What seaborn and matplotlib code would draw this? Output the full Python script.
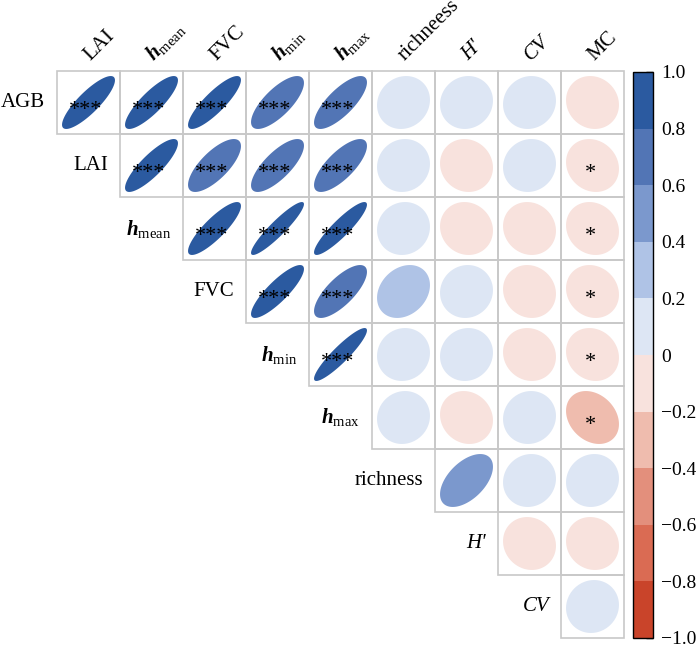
import numpy as np
import pandas as pd
import seaborn as sns
import matplotlib.pyplot as plt
from matplotlib.colors import ListedColormap, BoundaryNorm
from matplotlib.cm import ScalarMappable
from matplotlib.patches import Rectangle

# variable names (row labels / column labels)
row_labels = ['AGB', 'LAI', r'$\mathbf{h}_{\mathrm{mean}}$', 'FVC', r'$\mathbf{h}_{\mathrm{min}}$',
              r'$\mathbf{h}_{\mathrm{max}}$', 'richness', "H'", 'CV']
col_labels = ['LAI', r'$\mathbf{h}_{\mathrm{mean}}$', 'FVC', r'$\mathbf{h}_{\mathrm{min}}$',
              r'$\mathbf{h}_{\mathrm{max}}$', 'richneess', "H'", 'CV', 'MC']
italic_labels = ["H'", 'CV']

# correlation coefficients, upper triangle, one list per row
r_agb = [0.84, 0.84, 0.85, 0.74, 0.76, 0.10, 0.07, 0.07, -0.09]
r_lai = [0.84, 0.73, 0.75, 0.74, 0.06, -0.08, 0.07, -0.13]
r_hmean = [0.85, 0.92, 0.90, 0.06, -0.08, -0.09, -0.12]
r_fvc = [0.85, 0.74, 0.24, 0.05, -0.09, -0.12]
r_hmin = [0.91, 0.06, 0.07, -0.09, -0.12]
r_hmax = [0.06, -0.11, 0.06, -0.25]
r_rich = [0.52, 0.07, 0.07]
r_hp = [-0.09, -0.09]
r_cv = [0.06]

# significance marks
s_agb = ['***', '***', '***', '***', '***', '', '', '', '']
s_lai = ['***', '***', '***', '***', '', '', '', '*']
s_hmean = ['***', '***', '***', '', '', '', '*']
s_fvc = ['***', '***', '', '', '', '*']
s_hmin = ['***', '', '', '', '*']
s_hmax = ['', '', '', '*']
s_rich = ['', '', '']
s_hp = ['', '']
s_cv = ['']

rows_r = [r_agb, r_lai, r_hmean, r_fvc, r_hmin, r_hmax, r_rich, r_hp, r_cv]
rows_s = [s_agb, s_lai, s_hmean, s_fvc, s_hmin, s_hmax, s_rich, s_hp, s_cv]

n = len(row_labels)
corr = np.full((n, n), np.nan)
for i, vals in enumerate(rows_r):
    corr[i, i:] = vals
df = pd.DataFrame(corr, index=row_labels, columns=col_labels)

bin_colors = ['#C9442A', '#DA6B53', '#E38F7C', '#EFBCAE', '#F8E2DD',
              '#DDE6F4', '#AFC3E6', '#7B98CD', '#5275B5', '#2B5AA0']
cmap = ListedColormap(bin_colors)
norm = BoundaryNorm(np.linspace(-1, 1, 11), cmap.N)

sns.set_theme(style='white')
plt.rcParams['font.family'] = ['Liberation Serif', 'DejaVu Serif']
plt.rcParams['text.color'] = 'black'
plt.rcParams['mathtext.fontset'] = 'custom'
plt.rcParams['mathtext.rm'] = 'Liberation Serif'
plt.rcParams['mathtext.it'] = 'Liberation Serif:italic'
plt.rcParams['mathtext.bf'] = 'Liberation Serif:italic:bold'

fig = plt.figure(figsize=(7, 6.45), dpi=100)
ax = fig.add_axes([57 / 700, 7 / 645, 567 / 700, 567 / 645])
cax = fig.add_axes([633 / 700, 7 / 645, 20 / 700, 566 / 645])

# white background cells for the upper triangle
sns.heatmap(df.notna().astype(float), mask=df.isna(), cmap=ListedColormap(['white']),
            cbar=False, square=True, xticklabels=False, yticklabels=False, ax=ax)

t = np.linspace(0, 2 * np.pi, 200)
sc = 0.42
for i in range(n):
    for j in range(i, n):
        ax.add_patch(Rectangle((j, i), 1, 1, fill=False, edgecolor='#C8C8C8',
                               lw=1.2, zorder=2, clip_on=False))
        r = corr[i, j]
        d = np.arccos(r)
        cx, cy = j + 0.5, i + 0.5
        ex = cx + sc * np.cos(t + d / 2)
        ey = cy - sc * np.cos(t - d / 2)
        ax.fill(ex, ey, color=cmap(norm(r)), lw=0, zorder=3)
        star = rows_s[i][j - i]
        if star:
            ax.text(cx - 0.04, cy + 0.2, star, ha='center', va='baseline',
                    fontsize=16, color='black', zorder=4)

for i, lab in enumerate(row_labels):
    ax.text(i - 0.19, i + 0.5, lab, ha='right', va='center', fontsize=15,
            color='black', style='italic' if lab in italic_labels else 'normal')

for j, lab in enumerate(col_labels):
    ax.text(j + 0.58, -0.1, lab, ha='left', va='bottom', rotation=45,
            rotation_mode='anchor', fontsize=15, color='black',
            style='italic' if lab in italic_labels else 'normal')

ax.set_xlim(0, n)
ax.set_ylim(n, 0)
ax.axis('off')

cb = fig.colorbar(ScalarMappable(norm=norm, cmap=cmap), cax=cax)
ticks = np.round(np.linspace(-1, 1, 11), 1)
cb.set_ticks(ticks)
cb.set_ticklabels(['\u22121.0', '\u22120.8', '\u22120.6', '\u22120.4', '\u22120.2', '0',
                   '0.2', '0.4', '0.6', '0.8', '1.0'])
cb.ax.tick_params(direction='in', length=5, width=1, colors='black', labelsize=14, pad=6)
cb.outline.set_edgecolor('black')
cb.outline.set_linewidth(1)

fig.savefig('out.png', dpi=100)
